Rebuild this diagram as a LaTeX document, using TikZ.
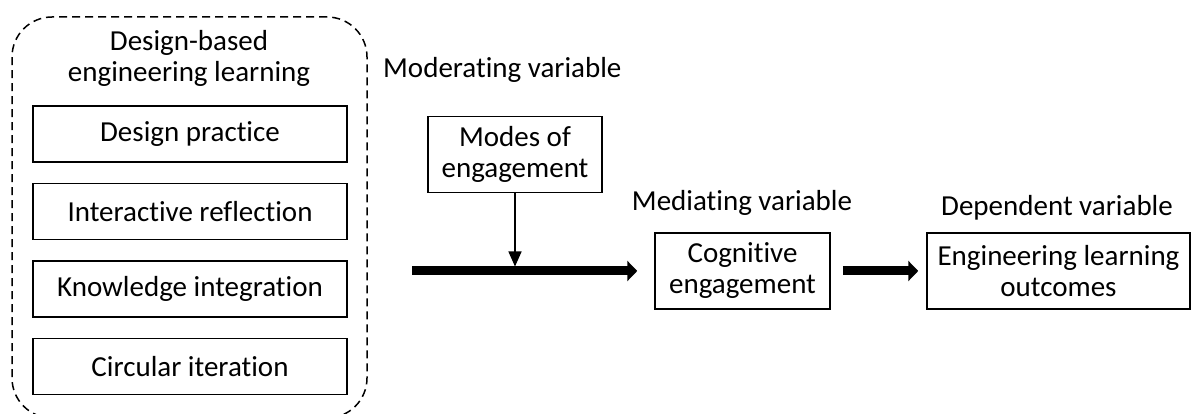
\documentclass[tikz,border=0pt]{standalone}
\usepackage{fontspec}
\setmainfont{Carlito}[Ligatures={NoCommon}]
\usetikzlibrary{arrows.meta, positioning, calc}
\tikzset{
  itembox/.style={rectangle, draw=black, line width=1.5pt, minimum width=314pt, minimum height=56pt, inner sep=0pt, text centered},
  varbox/.style={rectangle, draw=black, line width=1.5pt, minimum height=76pt, inner sep=0pt, align=center},
  varlabel/.style={inner sep=0pt, align=center},
  groupframe/.style={rectangle, draw=black, line width=1.5pt, dash pattern=on 8pt off 5pt, rounded corners=40pt, minimum width=355pt, minimum height=401pt},
  thickarrow/.style={line width=9pt, -{Triangle[length=10pt, width=20pt]}},
  thinarrow/.style={line width=1.5pt, -{Triangle[length=15pt, width=13pt]}}
}
\begin{document}
\begin{tikzpicture}[x=1pt, y=1pt, font=\fontsize{29}{31}\selectfont]
    \useasboundingbox (0,0) rectangle (1192,414);
    % Independent variable: dashed group with its four parts
    \node[groupframe] (frame) at (189.5,196.5) {};
    \node[varlabel] (dbel) at (189,356) {Design-based\\engineering learning};
    \node[itembox] (dp) at (190,280) {Design practice};
    \node[itembox, below=20pt of dp] (ir) {Interactive reflection};
    \node[itembox, below=20pt of ir] (ki) {Knowledge integration};
    \node[itembox, below=20pt of ki] (ci) {Circular iteration};
    % Moderating, mediating and dependent variables
    \node[varlabel, anchor=west] (modlab) at (383,344) {Moderating variable};
    \node[varbox, minimum width=174pt] (modes) at (515,259.5) {Modes of\\engagement};
    \node[varlabel] (medlab) at (742,211) {Mediating variable};
    \node[varbox, minimum width=175pt] (cog) at (742.5,143) {Cognitive\\engagement};
    \node[varlabel] (deplab) at (1057,206) {Dependent variable};
    \node[varbox, minimum width=263pt] (out) at (1058.5,143) {Engineering learning\\outcomes};
    % Arrows
    \coordinate (src) at (412,143);
    \coordinate (join) at (modes.south |- src);
    \draw[thickarrow, shorten >=17pt] (src) -- (src -| cog.west);
    \draw[thickarrow, shorten <=12pt, shorten >=8pt] (cog.east) -- (out.west);
    \draw[thinarrow, shorten >=4.5pt] (modes.south) -- (join);
\end{tikzpicture}
\end{document}
